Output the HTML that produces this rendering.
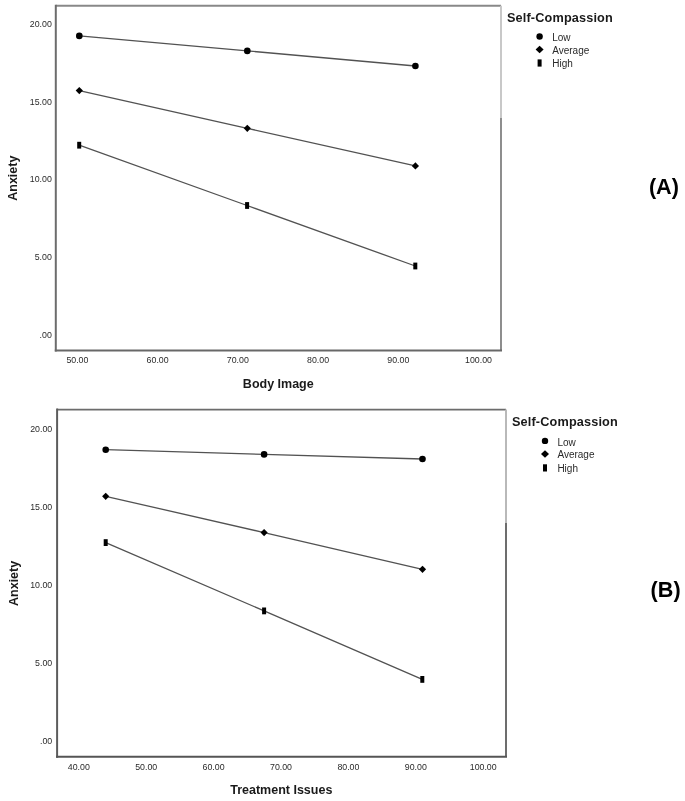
<!DOCTYPE html>
<html><head><meta charset="utf-8"><title>Self-Compassion interaction plots</title>
<style>
html,body{margin:0;padding:0;background:#fff;}
body{width:685px;height:801px;overflow:hidden;}
svg{display:block;filter:grayscale(1);font-family:"Liberation Sans",sans-serif;}
.tk{font-size:8.8px;fill:#2a2a2a;}
.tt{font-size:12.5px;font-weight:bold;fill:#1a1a1a;}
.lg{font-size:10px;fill:#2a2a2a;}
.lt{font-size:12.7px;font-weight:bold;fill:#1a1a1a;letter-spacing:0.15px;}
.lab{font-size:21.6px;font-weight:bold;fill:#000;}
</style></head>
<body>
<svg width="685" height="801" viewBox="0 0 685 801">
<rect width="685" height="801" fill="#fff"/>
<g>
<line x1="55.8" y1="5.7" x2="501" y2="5.7" stroke="#888" stroke-width="1.9"/><line x1="501" y1="5.7" x2="501" y2="118" stroke="#c6c6c6" stroke-width="1.9"/><line x1="501" y1="118" x2="501" y2="350.6" stroke="#888" stroke-width="1.9"/><line x1="55.8" y1="4.7" x2="55.8" y2="351.6" stroke="#6c6c6c" stroke-width="2"/><line x1="54.8" y1="350.6" x2="502" y2="350.6" stroke="#686868" stroke-width="2"/><text x="77.4" y="363.2" class="tk" text-anchor="middle">50.00</text><text x="157.62" y="363.2" class="tk" text-anchor="middle">60.00</text><text x="237.84" y="363.2" class="tk" text-anchor="middle">70.00</text><text x="318.06" y="363.2" class="tk" text-anchor="middle">80.00</text><text x="398.28" y="363.2" class="tk" text-anchor="middle">90.00</text><text x="478.5" y="363.2" class="tk" text-anchor="middle">100.00</text><text x="51.8" y="27.05" class="tk" text-anchor="end">20.00</text><text x="51.8" y="104.72" class="tk" text-anchor="end">15.00</text><text x="51.8" y="182.39" class="tk" text-anchor="end">10.00</text><text x="51.8" y="260.06" class="tk" text-anchor="end">5.00</text><text x="51.8" y="337.73" class="tk" text-anchor="end">.00</text><polyline points="79.3,35.9 247.3,50.9 415.4,66" fill="none" stroke="#525252" stroke-width="1.3"/><circle cx="79.3" cy="35.9" r="3.3" fill="#000"/><circle cx="247.3" cy="50.9" r="3.3" fill="#000"/><circle cx="415.4" cy="66" r="3.3" fill="#000"/><polyline points="79.3,90.6 247.3,128.3 415.4,165.9" fill="none" stroke="#525252" stroke-width="1.3"/><path d="M79.3 87L82.9 90.6L79.3 94.2L75.7 90.6Z" fill="#000"/><path d="M247.3 124.7L250.9 128.3L247.3 131.9L243.7 128.3Z" fill="#000"/><path d="M415.4 162.3L419 165.9L415.4 169.5L411.8 165.9Z" fill="#000"/><polyline points="79.2,145.2 247.1,205.5 415.3,266" fill="none" stroke="#525252" stroke-width="1.3"/><rect x="77.2" y="141.8" width="4" height="6.8" fill="#000"/><rect x="245.1" y="202.1" width="4" height="6.8" fill="#000"/><rect x="413.3" y="262.6" width="4" height="6.8" fill="#000"/><text x="507" y="22.4" class="lt">Self-Compassion</text><circle cx="539.6" cy="36.5" r="3.2" fill="#000"/><text x="552.2" y="41.3" class="lg">Low</text><path d="M539.6 45.8L543.6 49.5L539.6 53.2L535.6 49.5Z" fill="#000"/><text x="552.2" y="54" class="lg">Average</text><rect x="537.6" y="59.4" width="4" height="7.2" fill="#000"/><text x="552.2" y="67.4" class="lg">High</text><text transform="translate(16.6,178.2) rotate(-90)" text-anchor="middle" class="tt">Anxiety</text><text x="278.3" y="387.6" text-anchor="middle" class="tt">Body Image</text><text x="648.9" y="193.7" class="lab">(A)</text>
<line x1="57.1" y1="409.6" x2="506" y2="409.6" stroke="#6c6c6c" stroke-width="1.9"/><line x1="506" y1="409.6" x2="506" y2="522.9" stroke="#b6b6b6" stroke-width="1.9"/><line x1="506" y1="522.9" x2="506" y2="756.8" stroke="#666" stroke-width="1.9"/><line x1="57.1" y1="408.6" x2="57.1" y2="757.8" stroke="#5c5c5c" stroke-width="2"/><line x1="56.1" y1="756.8" x2="507" y2="756.8" stroke="#555" stroke-width="2"/><text x="78.8" y="769.6" class="tk" text-anchor="middle">40.00</text><text x="146.2" y="769.6" class="tk" text-anchor="middle">50.00</text><text x="213.6" y="769.6" class="tk" text-anchor="middle">60.00</text><text x="281" y="769.6" class="tk" text-anchor="middle">70.00</text><text x="348.4" y="769.6" class="tk" text-anchor="middle">80.00</text><text x="415.8" y="769.6" class="tk" text-anchor="middle">90.00</text><text x="483.2" y="769.6" class="tk" text-anchor="middle">100.00</text><text x="52.2" y="431.6" class="tk" text-anchor="end">20.00</text><text x="52.2" y="509.62" class="tk" text-anchor="end">15.00</text><text x="52.2" y="587.64" class="tk" text-anchor="end">10.00</text><text x="52.2" y="665.66" class="tk" text-anchor="end">5.00</text><text x="52.2" y="743.68" class="tk" text-anchor="end">.00</text><polyline points="105.7,449.7 264.1,454.4 422.5,459" fill="none" stroke="#525252" stroke-width="1.3"/><circle cx="105.7" cy="449.7" r="3.3" fill="#000"/><circle cx="264.1" cy="454.4" r="3.3" fill="#000"/><circle cx="422.5" cy="459" r="3.3" fill="#000"/><polyline points="105.7,496.3 264.1,532.6 422.5,569.3" fill="none" stroke="#525252" stroke-width="1.3"/><path d="M105.7 492.7L109.3 496.3L105.7 499.9L102.1 496.3Z" fill="#000"/><path d="M264.1 529L267.7 532.6L264.1 536.2L260.5 532.6Z" fill="#000"/><path d="M422.5 565.7L426.1 569.3L422.5 572.9L418.9 569.3Z" fill="#000"/><polyline points="105.7,542.6 264.1,610.9 422.3,679.4" fill="none" stroke="#525252" stroke-width="1.3"/><rect x="103.7" y="539.2" width="4" height="6.8" fill="#000"/><rect x="262.1" y="607.5" width="4" height="6.8" fill="#000"/><rect x="420.3" y="676" width="4" height="6.8" fill="#000"/><text x="512" y="426.4" class="lt">Self-Compassion</text><circle cx="545" cy="440.9" r="3.2" fill="#000"/><text x="557.4" y="445.6" class="lg">Low</text><path d="M545 450.3L549 454L545 457.7L541 454Z" fill="#000"/><text x="557.4" y="458.3" class="lg">Average</text><rect x="543" y="464.3" width="4" height="7.2" fill="#000"/><text x="557.4" y="471.7" class="lg">High</text><text transform="translate(17.9,583.4) rotate(-90)" text-anchor="middle" class="tt">Anxiety</text><text x="281.3" y="794.3" text-anchor="middle" class="tt">Treatment Issues</text><text x="650.6" y="596.8" class="lab">(B)</text>
</g>
</svg>
</body></html>
